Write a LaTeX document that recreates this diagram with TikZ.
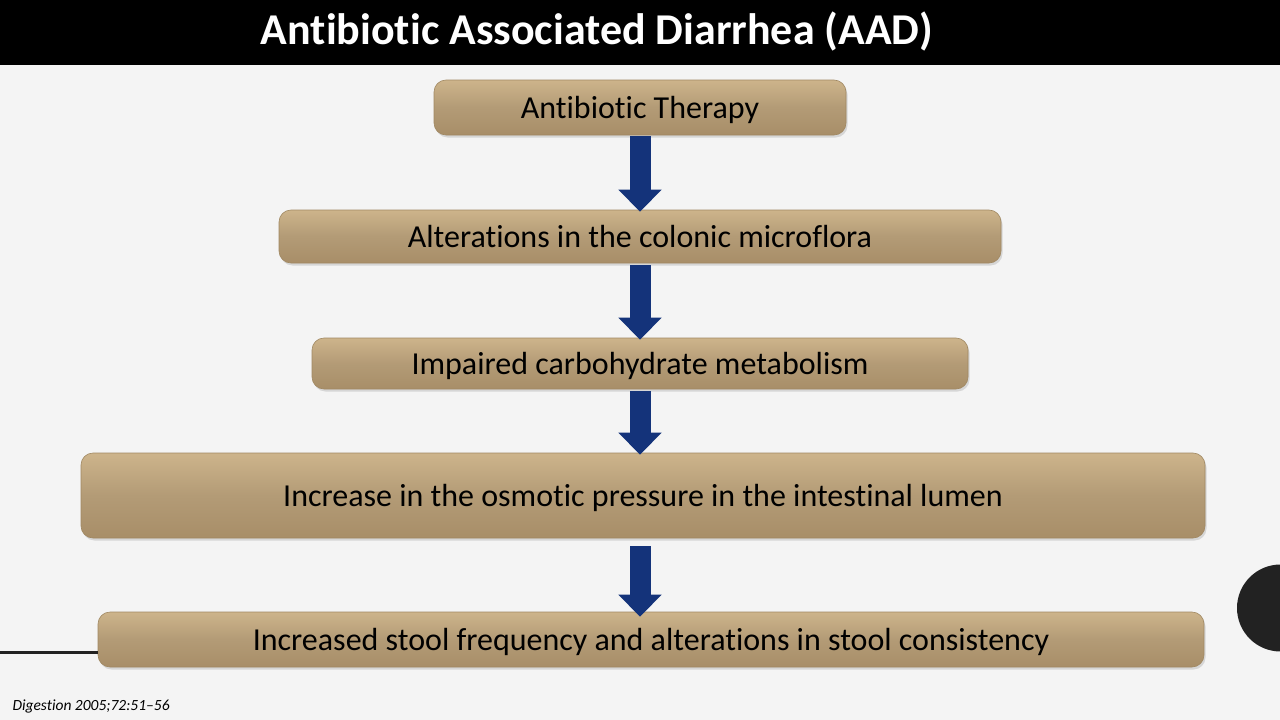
\documentclass[tikz,border=0pt]{standalone}
\usepackage{fontspec}
\setmainfont{Carlito}[Ligatures=NoCommon]
\usetikzlibrary{arrows.meta,shadows}
\definecolor{bgc}{HTML}{F4F4F4}
\definecolor{boxmid}{HTML}{B39B76}
\definecolor{boxtop}{HTML}{CDB48B}
\definecolor{boxbot}{HTML}{A88E68}
\definecolor{boxedge}{HTML}{A08862}
\definecolor{navy}{HTML}{14337A}
\definecolor{darkc}{HTML}{222222}
\tikzset{
  flowbox/.style={draw=boxedge, line width=0.6pt, rounded corners=12pt,
    top color=boxtop, bottom color=boxbot, middle color=boxmid,
    drop shadow={shadow xshift=1.5pt, shadow yshift=-2.5pt, opacity=0.25},
    font=\fontsize{32}{36}\selectfont, text=black, inner sep=0pt, align=center,
    text depth=0pt},
  bigarrow/.style={draw=navy, line width=21pt,
    -{Triangle[width=42pt,length=22pt]}},
}
\begin{document}
\begin{tikzpicture}[x=1pt,y=-1pt]
\useasboundingbox (0,0) rectangle (1280,720);
\clip (0,0) rectangle (1280,720);
\fill[bgc] (0,0) rectangle (1280,720);
\fill[black] (0,0) rectangle (1280,65);
\node[text=white, font=\fontsize{44}{48}\selectfont\bfseries] (title) at (597,32) {Antibiotic Associated Diarrhea (AAD)};

\node[flowbox, minimum width=412pt, minimum height=55pt] (b1) at (640,107.5) {Antibiotic Therapy};
\node[flowbox, minimum width=722pt, minimum height=53pt] (b2) at (640,236.5) {Alterations in the colonic microflora};
\node[flowbox, minimum width=656pt, minimum height=51pt] (b3) at (640,363.5) {Impaired carbohydrate metabolism};
\node[flowbox, minimum width=1124pt, minimum height=85pt] (b4) at (643,495.5) {Increase in the osmotic pressure in the intestinal lumen};
\node[flowbox, minimum width=1106pt, minimum height=55pt] (b5) at (651,639.5) {Increased stool frequency and alterations in stool consistency};

\draw[bigarrow] ([yshift=-1pt]b1.south -| 640,0) -- ([yshift=-2pt]b2.north -| 640,0);
\draw[bigarrow] ([yshift=-2pt]b2.south -| 640,0) -- ([yshift=-2pt]b3.north -| 640,0);
\draw[bigarrow] ([yshift=-2pt]b3.south -| 640,0) -- ([yshift=-2pt]b4.north -| 640,0);
\draw[bigarrow] ([yshift=-8pt]b4.south -| 640,0) -- ([yshift=-5pt]b5.north -| 640,0);

\coordinate (lineL) at (0,652);
\draw[darkc, line width=3pt] (lineL) -- (b5.west |- lineL);

\fill[darkc] (1280.5,608) circle (43.5);

\node[anchor=west, font=\fontsize{15.5}{17}\selectfont\itshape, text=black] (cite) at (9,706) {Digestion 2005;72:51–56};
\end{tikzpicture}
\end{document}
